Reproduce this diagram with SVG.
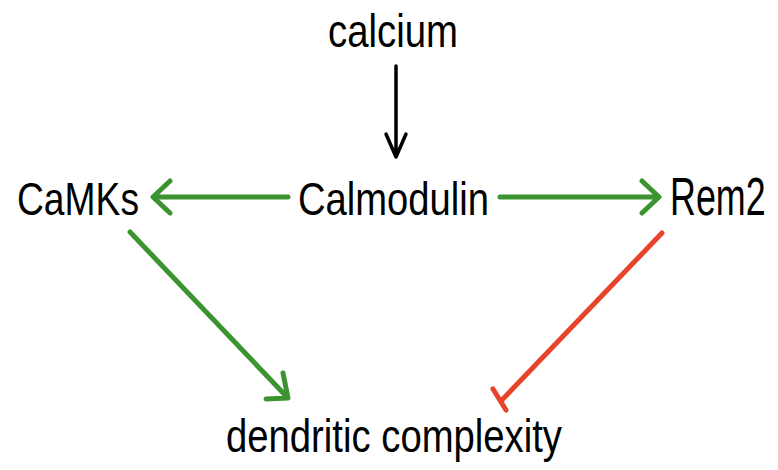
<svg xmlns="http://www.w3.org/2000/svg" width="778" height="470" viewBox="0 0 778 470">
<style>
.t{font-family:"Liberation Sans",Arial,sans-serif;font-size:46px;fill:#000}
.g{stroke:#3c9430;stroke-width:5;fill:none;stroke-linecap:round;stroke-linejoin:round}
.k{stroke:#000;stroke-width:3.5;fill:none;stroke-linecap:round;stroke-linejoin:round}
.r{stroke:#e8442c;stroke-width:5;fill:none;stroke-linecap:round}
</style>
<rect width="778" height="470" fill="#fff"/>
<g id="calcium"><text class="t" x="328" y="47" textLength="130" lengthAdjust="spacingAndGlyphs">calcium</text></g>
<g id="camks"><text class="t" x="17" y="215" textLength="122" lengthAdjust="spacingAndGlyphs">CaMKs</text></g>
<g id="calmodulin"><text class="t" x="298" y="215" textLength="191" lengthAdjust="spacingAndGlyphs">Calmodulin</text></g>
<g id="rem2"><text class="t" x="670" y="215" font-size="40" transform="translate(670 215) scale(0.92 1.15) translate(-670 -215)" textLength="104" lengthAdjust="spacingAndGlyphs">Rem2</text></g>
<g id="dendritic"><text class="t" x="226" y="452" textLength="336" lengthAdjust="spacingAndGlyphs">dendritic complexity</text></g>
<g id="connectors">
<path class="k" d="M396 66V156M386 134L396 157L406 134"/>
<path class="g" d="M288 197H154M170 181L153 197L170 213"/>
<path class="g" d="M500 197H658M642 181L659 197L642 213"/>
<path class="g" d="M130 232L287 397M283 373L288 398L266 399"/>
<path class="r" stroke-width="5.5" d="M662 233L502 400"/>
<path class="r" stroke-width="8" d="M493 389L506 410"/>
</g>
</svg>
